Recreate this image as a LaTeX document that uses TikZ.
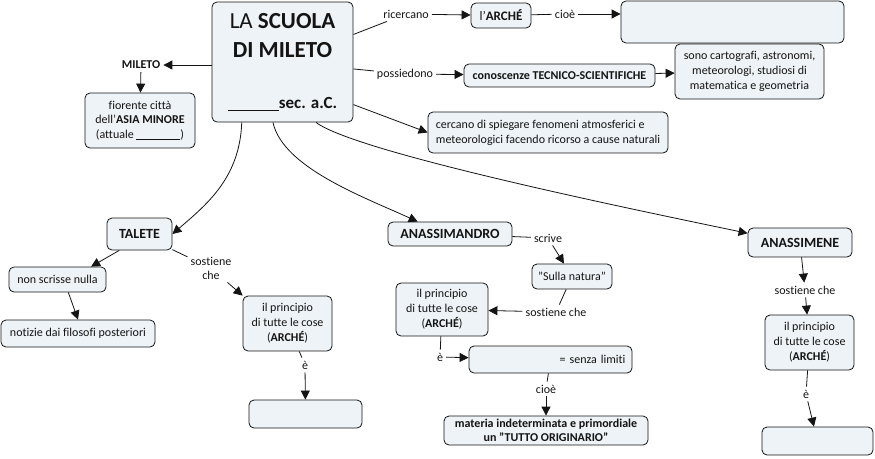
\documentclass[tikz,border=0pt]{standalone}
\usepackage{fontspec}
\setmainfont{Carlito}[Ligatures={NoCommon}]
\usetikzlibrary{arrows.meta,calc}
\definecolor{boxfill}{RGB}{237,243,246}
\definecolor{ink}{RGB}{20,20,20}
\begin{document}
\begin{tikzpicture}[x=1pt,y=-1pt,
  font=\fontsize{12}{15}\selectfont,
  box/.style={draw=ink,line width=0.8pt,rounded corners=5pt,fill=boxfill,align=center,inner sep=2pt,text=ink},
  namebox/.style={box,font=\fontsize{14}{16}\selectfont\bfseries},
  lbl/.style={inner sep=3pt,align=center,text=ink},
  link/.style={draw=ink,line width=0.8pt},
  arr/.style={link,-{Triangle[length=9pt,width=9pt]}},
]
\useasboundingbox (0,0) rectangle (875,458);
% main
\node[box,minimum width=141pt,minimum height=120pt,font=\fontsize{23}{29}\selectfont] (main) at (282.5,62)
  {LA \textbf{SCUOLA}\\ \textbf{DI MILETO}\\[22pt]
   {\fontsize{17}{20}\selectfont\rule[-2pt]{51pt}{0.9pt}\textbf{sec. a.C.}}};
\node[lbl,font=\fontsize{12}{15}\selectfont\bfseries] (mileto) at (141,65) {MILETO};
\node[box,minimum width=110pt,minimum height=55pt,font=\fontsize{12}{14.5}\selectfont] (fiorente) at (140,120.5)
  {fiorente città\\dell'\textbf{ASIA MINORE}\\(attuale \rule[-1pt]{44pt}{0.6pt})};
\node[lbl] (ricercano) at (406,14) {ricercano};
\node[box,minimum width=60pt,minimum height=25pt,font=\fontsize{13}{15}\selectfont] (arche) at (501,15.5) {l'\textbf{ARCHÉ}};
\node[lbl] (cioe1) at (565,14) {cioè};
\node[box,minimum width=223pt,minimum height=42pt] (empty1) at (732.5,22) {};
\node[lbl] (possiedono) at (405,74) {possiedono};
\node[box,minimum width=191pt,minimum height=23pt] (conoscenze) at (559.5,75.5) {\textbf{conoscenze TECNICO-SCIENTIFICHE}};
\node[box,minimum width=149pt,minimum height=55pt] (sono) at (749.5,71.5)
  {sono cartografi, astronomi,\\meteorologi, studiosi di\\matematica e geometria};
\node[box,minimum width=240pt,minimum height=41pt,align=left] (cercano) at (548,132.5)
  {cercano di spiegare fenomeni atmosferici e\\meteorologici facendo ricorso a cause naturali};
% Talete
\node[namebox,minimum width=65pt,minimum height=32pt] (talete) at (139.5,234) {TALETE};
\node[box,minimum width=97pt,minimum height=25pt] (nonscrisse) at (57.5,279.5) {non scrisse nulla};
\node[box,minimum width=154pt,minimum height=27pt] (notizie) at (78,333.5) {notizie dai filosofi posteriori};
\node[lbl,font=\fontsize{12}{14}\selectfont] (sostiene1) at (211,268) {sostiene\\che};
\node[box,minimum width=89pt,minimum height=55pt] (principio1) at (287.5,323.5)
  {il principio\\di tutte le cose\\(\textbf{ARCHÉ})};
\node[lbl] (e1) at (305,365) {è};
\node[box,minimum width=113pt,minimum height=28pt] (empty2) at (305.5,414) {};
% Anassimandro
\node[namebox,minimum width=124pt,minimum height=24pt] (anassimandro) at (450,234) {ANASSIMANDRO};
\node[lbl] (scrive) at (548,238) {scrive};
\node[box,minimum width=80pt,minimum height=25pt] (sulla) at (572,276.5) {"Sulla natura"};
\node[lbl] (sostiene2) at (556,312) {sostiene che};
\node[box,minimum width=92pt,minimum height=53pt] (principio2) at (442,309.5)
  {il principio\\di tutte le cose\\(\textbf{ARCHÉ})};
\node[lbl] (e2) at (440,357) {è};
\node[box,minimum width=163pt,minimum height=27pt,text width=150pt,align=right] (senza) at (550.5,359.5) {= senza limiti};
\node[lbl] (cioe2) at (546,389) {cioè};
\node[box,minimum width=204pt,minimum height=29pt,font=\fontsize{12}{14}\selectfont\bfseries] (materia) at (546,430.5)
  {materia indeterminata e primordiale\\un "TUTTO ORIGINARIO"};
% Anassimene
\node[namebox,minimum width=104pt,minimum height=29pt] (anassimene) at (800,242.5) {ANASSIMENE};
\node[lbl] (sostiene3) at (805,290) {sostiene che};
\node[box,minimum width=89pt,minimum height=55pt] (principio3) at (809.5,342.5)
  {il principio\\di tutte le cose\\(\textbf{ARCHÉ})};
\node[lbl] (e3) at (806,394) {è};
\node[box,minimum width=111pt,minimum height=28pt] (empty3) at (817.5,441) {};
% connectors
\draw[arr] (main.west |- mileto) -- (mileto);
\draw[arr] (mileto) -- (fiorente);
\draw[link] (main) -- (ricercano);
\draw[arr] (ricercano) -- (arche);
\draw[link] (arche) -- (cioe1);
\draw[arr] (cioe1) -- (cioe1 -| empty1.west);
\draw[link] (main) -- (possiedono);
\draw[arr] (possiedono) -- (conoscenze);
\draw[arr] (conoscenze) -- (sono);
\draw[arr] (main.-31) -- (cercano.west);
\draw[arr] (main.236) .. controls +(-2,55) and +(35,-30) .. (talete.east);
\draw[arr] (main.261) .. controls +(10,45) and +(-55,-25) .. (anassimandro.159);
\draw[arr] (main.-61) .. controls +(40,30) and +(-120,-25) .. (anassimene.170);
\draw[arr] (talete.219) -- (nonscrisse.21);
\draw[arr] (nonscrisse.-50) -- (notizie.north);
\draw[link] (talete) -- (sostiene1);
\draw[arr] (sostiene1) -- (principio1.north west);
\draw[link] (principio1) -- (e1);
\draw[arr] (e1) -- (empty2);
\draw[link] (anassimandro) -- (scrive);
\draw[arr] (scrive) -- (sulla);
\draw[link] (sulla) -- (sostiene2);
\draw[arr] (sostiene2) -- (principio2);
\draw[link] (principio2) -- (e2);
\draw[arr] (e2) -- (senza);
\draw[link] (senza) -- (cioe2);
\draw[arr] (cioe2) -- (materia);
\draw[arr] (anassimene) -- (sostiene3);
\draw[arr] (sostiene3) -- (principio3);
\draw[link] (principio3) -- (e3);
\draw[arr] (e3) -- (empty3);
\end{tikzpicture}
\end{document}
